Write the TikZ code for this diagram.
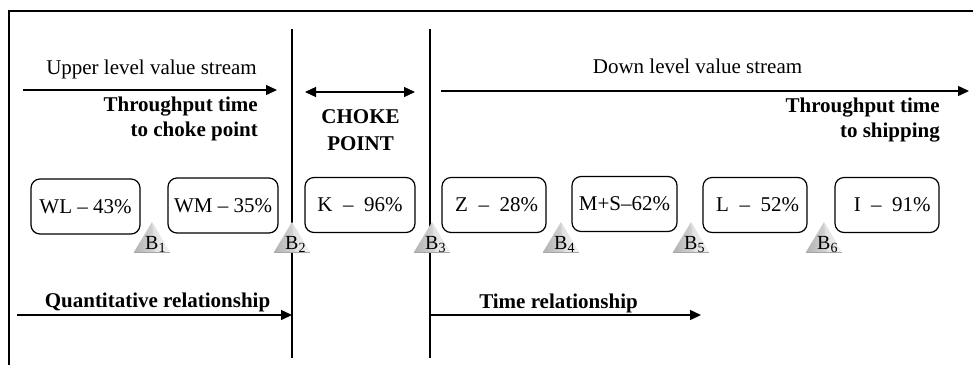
\documentclass[tikz,border=0pt]{standalone}
\usepackage{fontspec}
\setmainfont{Liberation Serif}
\usetikzlibrary{arrows.meta}
\tikzset{
  txt/.style={font=\fontsize{21}{25}\selectfont, inner sep=0pt},
  btxt/.style={font=\fontsize{21}{25}\selectfont\bfseries, inner sep=0pt},
  stagebox/.style={draw, line width=1.2pt, rounded corners=9pt, minimum height=55pt,
    font=\fontsize{21}{25}\selectfont, inner sep=0pt},
  arr/.style={line width=1.4pt, -{Triangle[length=11pt,width=10pt]}},
  darr/.style={line width=1.4pt, {Triangle[length=11pt,width=10pt]}-{Triangle[length=11pt,width=10pt]}},
  rule/.style={line width=1.4pt},
  blab/.style={font=\fontsize{20}{22}\selectfont, inner sep=0pt, anchor=base west},
}
\begin{document}
\begin{tikzpicture}[x=1pt,y=-1pt]
\useasboundingbox (0,0) rectangle (973,365);
% frame
\coordinate (fl) at (9,365);
\coordinate (fc) at (9,11);
\coordinate (fr) at (973,11);
\draw[rule] (fl) -- (fc) -- (fr);
% vertical separators
\coordinate (v1t) at (292,29); \coordinate (v1b) at (292,358);
\coordinate (v2t) at (430,29); \coordinate (v2b) at (430,358);
\draw[rule] (v1t) -- (v1b);
\draw[rule] (v2t) -- (v2b);
% upper level
\node[txt, anchor=base] (ulvs) at (151.5,74) {Upper level value stream};
\coordinate (ua1) at (23,90); \coordinate (ua2) at (277,90);
\draw[arr] (ua1) -- (ua2);
\node[btxt, anchor=base east] (tt1) at (258,111) {Throughput time};
\node[btxt, anchor=base east] (tt2) at (258,136) {to choke point};
% choke point
\coordinate (ca1) at (305,92); \coordinate (ca2) at (415,92);
\draw[darr] (ca1) -- (ca2);
\node[btxt, anchor=base] (ck1) at (360.5,123) {CHOKE};
\node[btxt, anchor=base] (ck2) at (360.5,150) {POINT};
% down level
\node[txt, anchor=base] (dlvs) at (697.5,73) {Down level value stream};
\coordinate (da1) at (441,91); \coordinate (da2) at (969,91);
\draw[arr] (da1) -- (da2);
\node[btxt, anchor=base east] (ts1) at (940,112) {Throughput time};
\node[btxt, anchor=base east] (ts2) at (940,137) {to shipping};
% boxes
\node[stagebox, minimum width=109pt] (wl) at (85.5,206.5) {WL -- 43\%};
\node[stagebox, minimum width=110pt] (wm) at (223,205.5) {WM -- 35\%};
\node[stagebox, minimum width=110pt] (k) at (360,205) {K\ \ --\ \ 96\%};
\node[stagebox, minimum width=104pt] (z) at (494,205) {\ Z\ \ --\ \ 28\%};
\node[stagebox, minimum width=105pt] (ms) at (624.5,204) {M+S--62\%};
\node[stagebox, minimum width=104pt] (l) at (755,205) {\ L\ \ --\ \ 52\%};
\node[stagebox, minimum width=104pt] (i) at (887,205) {\ \ I\ \ --\ \ 91\%};
% triangles
\foreach \cx/\n in {152/1,292/2,432/3,561/4,691/5,824/6}{
  \shade[left color=gray!60, right color=gray!15] (\cx,222) -- (\cx-18,252) -- (\cx+18,252) -- cycle;
  \fill[white, opacity=0.35] (\cx,222) -- (\cx+3,252) -- (\cx+18,252) -- cycle;
  \draw[gray!70, line width=1pt] (\cx-18,252) -- (\cx+18,252);
  \node[blab] (b\n) at (\cx-7,249) {B\textsubscript{\n}};
}
% relationships
\node[btxt, anchor=base] (qr) at (157.5,307) {Quantitative relationship};
\coordinate (qa1) at (17,315);
\draw[arr] (qa1) -- (v1b |- qa1);
\node[btxt, anchor=base] (tr) at (558.5,308) {Time relationship};
\coordinate (ta1) at (430,315); \coordinate (ta2) at (701,315);
\draw[arr] (ta1) -- (ta2);
\end{tikzpicture}
\end{document}
